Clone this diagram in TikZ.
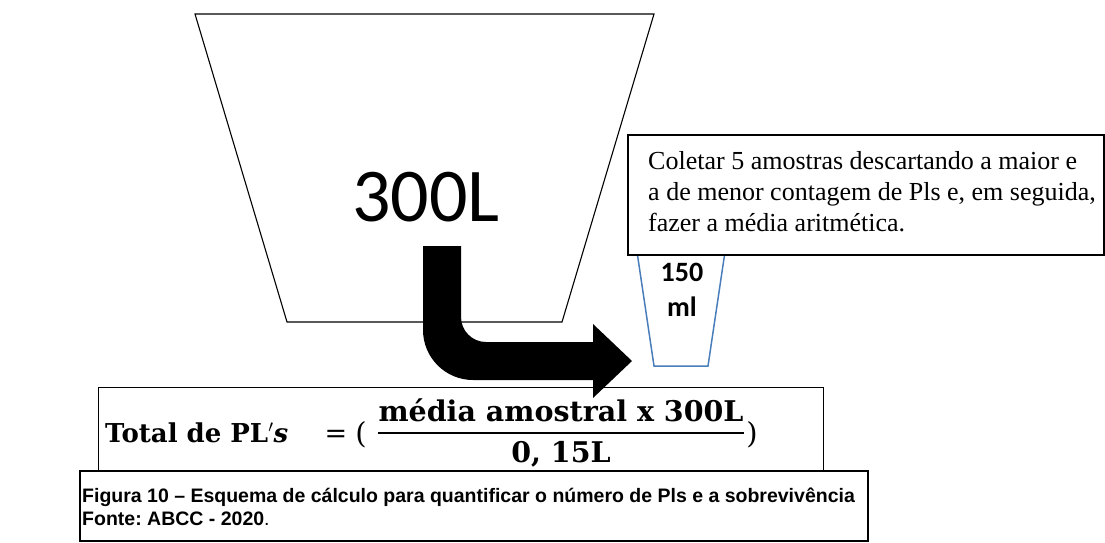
\documentclass[tikz,border=0pt]{standalone}
\usepackage{fontspec}
\setmainfont{Liberation Serif}
\newfontfamily\calibri{Carlito}
\newfontfamily\cambria{DejaVu Serif}
\newfontfamily\arial{Liberation Sans}
\usetikzlibrary{positioning}
\definecolor{cupblue}{RGB}{74,126,187}
\frenchspacing

\begin{document}
\begin{tikzpicture}[x=1pt, y=-1pt]
\useasboundingbox (0,0) rectangle (1105,543);

\newcommand{\fsz}[2]{\fontsize{#1}{#2}\selectfont}  % tamanho da fonte

% balde de 300L
\coordinate (P1) at (195,14);
\coordinate (P2) at (654,14);
\coordinate (P3) at (562,322);
\coordinate (P4) at (287,322);

% copo de 150 ml
\coordinate (C1) at (636,245);
\coordinate (C2) at (654,366);
\coordinate (C3) at (708,366);
\coordinate (C4) at (726,245);

\draw[line width=1.1pt] (P1) -- (P2) -- (P3) -- (P4) -- cycle;
\node[font=\calibri\fsz{76}{76}] (vol) at (426,197) {300L};

\draw[cupblue, line width=1.5pt] (C1) -- (C2) -- (C3) -- (C4);
\node[font=\calibri\bfseries\fsz{28}{28}] (cap) at (682,272) {150};
\node[font=\calibri\bfseries\fsz{28}{28}, below=9pt of cap] (capml) {ml};

% seta preta
\fill[black] (423,246) -- (461,246) -- (461,317) arc (180:90:25)
  -- (593,342) -- (593,324) -- (632,361) -- (593,398) -- (593,380)
  -- (473,380) arc (90:180:50) -- cycle;

% caixa com o texto
\draw[fill=white, line width=1.1pt] (628,135) rectangle (1104,255);
\node[anchor=north west, align=left, inner sep=0pt,
      font=\fsz{26}{31}] (nota) at (648,151)
  {Coletar 5 amostras descartando a maior e\\
   a de menor contagem de Pls e, em seguida,\\
   fazer a média aritmética.};

% formula
\draw[line width=0.8pt] (98,387) rectangle (823,471);
\node[anchor=base west, inner sep=0pt, font=\cambria\bfseries\fsz{26}{26}] (total)
  at (105,442) {Total de PL$'$\textit{s}};
\node[anchor=base, inner sep=0pt, font=\cambria\fsz{27}{27}] (igual) at (336,442) {=};
\node[anchor=base, inner sep=0pt, font=\cambria\fsz{29}{29}] (lpar) at (361,443) {(};
\node[anchor=base, inner sep=0pt, font=\cambria\bfseries\fsz{28.5}{28.5}] (num)
  at (561,421) {média amostral x 300L};
\node[anchor=base, inner sep=0pt, font=\cambria\bfseries\fsz{28.5}{28.5}] (den)
  at (561,462) {0, 15L};
\node[anchor=base, inner sep=0pt, font=\cambria\fsz{29}{29}] (rpar) at (752,443) {)};
\draw[line width=1.3pt] (num.south west |- 0,433) -- (num.south east |- 0,433);

% legenda
\draw[line width=1.6pt] (80,471) rectangle (868,541);
\node[anchor=north west, align=left, inner sep=0pt,
      font=\arial\bfseries\fsz{19.5}{23}] (legenda) at (82,488)
  {Figura 10 – Esquema de cálculo para quantificar o número de Pls e a sobrevivência\\
   Fonte: ABCC - 2020{\mdseries.}};

\end{tikzpicture}
\end{document}
